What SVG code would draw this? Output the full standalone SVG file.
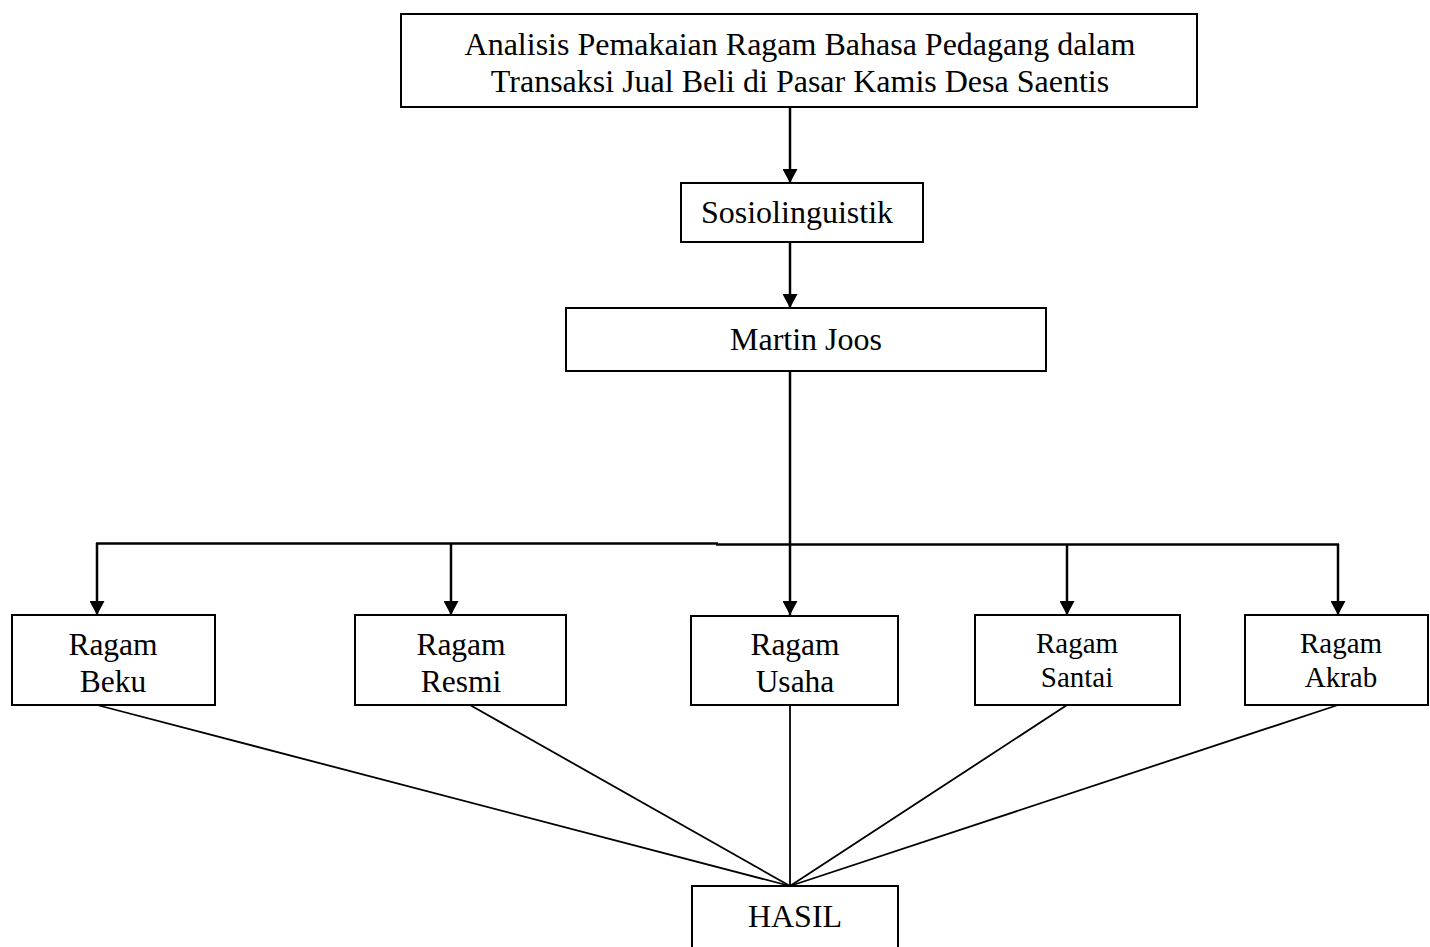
<svg xmlns="http://www.w3.org/2000/svg" width="1430" height="947" viewBox="0 0 1430 947">
<style>
.box{fill:#fff;stroke:#000;stroke-width:2}
.t{font-family:"Liberation Serif","Times New Roman",serif;font-size:32px;fill:#000;text-anchor:middle}
.r{font-size:31.5px}
.s{font-size:29px}
.ln{stroke:#000;stroke-width:2.5;fill:none}
.dg{stroke:#000;stroke-width:1.8;fill:none}
</style>
<defs>
<marker id="ah" markerWidth="14" markerHeight="15" refX="14" refY="7.5" orient="auto" markerUnits="userSpaceOnUse" viewBox="0 0 14 15">
<path d="M0,0 L14,7.5 L0,15 z" fill="#000"/>
</marker>
</defs>
<rect width="1430" height="947" fill="#fff"/>
<g id="connectors">
<line class="ln" x1="790" y1="107" x2="790" y2="183" marker-end="url(#ah)"/>
<line class="ln" x1="790" y1="242" x2="790" y2="308" marker-end="url(#ah)"/>
<line class="ln" x1="790" y1="371" x2="790" y2="615" marker-end="url(#ah)"/>
<line class="ln" x1="96" y1="543.5" x2="718" y2="543.5"/>
<line class="ln" x1="716" y1="544.5" x2="1339" y2="544.5"/>
<line class="ln" x1="97" y1="543" x2="97" y2="615" marker-end="url(#ah)"/>
<line class="ln" x1="451" y1="543" x2="451" y2="615" marker-end="url(#ah)"/>
<line class="ln" x1="1067" y1="544" x2="1067" y2="615" marker-end="url(#ah)"/>
<line class="ln" x1="1338" y1="544" x2="1338" y2="615" marker-end="url(#ah)"/>
<line class="dg" x1="97" y1="705" x2="790" y2="886"/>
<line class="dg" x1="470" y1="705" x2="790" y2="886"/>
<line class="dg" x1="790" y1="705" x2="790" y2="886"/>
<line class="dg" x1="1067" y1="705" x2="790" y2="886"/>
<line class="dg" x1="1338" y1="705" x2="790" y2="886"/>
</g>
<g id="title">
<rect class="box" x="401" y="14" width="796" height="93"/>
<text class="t" x="800" y="55">Analisis Pemakaian Ragam Bahasa Pedagang dalam</text>
<text class="t" x="800" y="92">Transaksi Jual Beli di Pasar Kamis Desa Saentis</text>
</g>
<g id="sosiolinguistik">
<rect class="box" x="681" y="183" width="242" height="59"/>
<text class="t" x="797" y="223">Sosiolinguistik</text>
</g>
<g id="martin">
<rect class="box" x="566" y="308" width="480" height="63"/>
<text class="t" x="806" y="350">Martin Joos</text>
</g>
<g id="beku">
<rect class="box" x="12" y="615" width="203" height="90"/>
<text class="t r" x="113" y="655">Ragam</text>
<text class="t r" x="113" y="692">Beku</text>
</g>
<g id="resmi">
<rect class="box" x="355" y="615" width="211" height="90"/>
<text class="t r" x="461" y="655">Ragam</text>
<text class="t r" x="461" y="692">Resmi</text>
</g>
<g id="usaha">
<rect class="box" x="691" y="616" width="207" height="89"/>
<text class="t r" x="795" y="655">Ragam</text>
<text class="t r" x="795" y="692">Usaha</text>
</g>
<g id="santai">
<rect class="box" x="975" y="615" width="205" height="90"/>
<text class="t s" x="1077" y="653">Ragam</text>
<text class="t s" x="1077" y="687">Santai</text>
</g>
<g id="akrab">
<rect class="box" x="1245" y="615" width="183" height="90"/>
<text class="t s" x="1341" y="653">Ragam</text>
<text class="t s" x="1341" y="687">Akrab</text>
</g>
<g id="hasil">
<rect class="box" x="692" y="886" width="206" height="70"/>
<text class="t" x="795" y="927">HASIL</text>
</g>
</svg>
